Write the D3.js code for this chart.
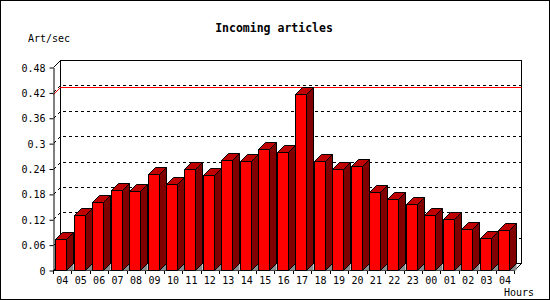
<!DOCTYPE html>
<html>
<head>
<meta charset="utf-8">
<script src="https://cdn.jsdelivr.net/npm/d3@7/dist/d3.min.js"></script>
<style>
html,body{margin:0;padding:0;background:#fff;}
svg{display:block;}
text{font-family:"DejaVu Sans Mono",monospace;fill:#000;}
</style>
</head>
<body>
<script>
const hours = ["04","05","06","07","08","09","10","11","12","13","14","15","16","17","18","19","20","21","22","23","00","01","02","03","04"];
const values = [0.073,0.130,0.160,0.188,0.186,0.226,0.203,0.240,0.224,0.259,0.257,0.285,0.279,0.415,0.257,0.240,0.245,0.184,0.169,0.155,0.129,0.120,0.096,0.075,0.094];
const yTicks = [0,0.06,0.12,0.18,0.24,0.3,0.36,0.42,0.48];
const yTickLabels = ["0","0.06","0.12","0.18","0.24","0.3","0.36","0.42","0.48"];
const title = "Incoming articles";
const yLabel = "Art/sec";
const xLabel = "Hours";

const W = 550, H = 300, D = 7;
const svg = d3.select("body").append("svg").attr("width", W).attr("height", H);
svg.append("rect").attr("x",0).attr("y",0).attr("width",W).attr("height",H).attr("fill","#fff");
svg.append("rect").attr("x",0.5).attr("y",0.5).attr("width",W-1).attr("height",H-1)
  .attr("fill","none").attr("stroke","#000");

const x = d3.scaleBand().domain(d3.range(hours.length)).range([53, 53 + 18.45*hours.length]).padding(0);
const y = d3.scaleLinear().domain([0, 0.48]).range([270, 67]);
const x0 = 53, x1 = Math.round(x.range()[1]);
const yTop = y(0.48), yBot = y(0);

// back wall
svg.append("rect").attr("x", x0 + D + 0.5).attr("y", yTop - D + 0.5)
  .attr("width", (x1 + D) - (x0 + D)).attr("height", yBot - yTop)
  .attr("fill","#fff").attr("stroke","#000");

// gridlines (dotted)
const grid = svg.append("g");
yTicks.filter(t => t > 0 && t < 0.48).forEach(t => {
  const yy = Math.round(y(t)) + 0.5;
  grid.append("path")
    .attr("d", `M${x0+0.5},${yy}L${x0+D+0.5},${yy-D}L${x1+D+0.5},${yy-D}`)
    .attr("fill","none").attr("stroke","#000").attr("stroke-dasharray","3,3")
    .attr("shape-rendering","crispEdges");
});

// max line (red)
const ym = Math.round(y(d3.max(values))) + 0.5;
svg.append("path")
  .attr("d", `M${x0+0.5},${ym}L${x0+D+0.5},${ym-D}L${x1+D+0.5},${ym-D}`)
  .attr("fill","none").attr("stroke","#ff0000");

// left wall edges & floor
svg.append("path")
  .attr("d", `M${x0+0.5},${yTop+0.5}L${x0+D+0.5},${yTop-D+0.5}` +
             `M${x0+0.5},${yBot+0.5}L${x0+D+0.5},${yBot-D+0.5}` +
             `M${x0+0.5},${yBot+0.5}L${x1+0.5},${yBot+0.5}L${x1+D+0.5},${yBot-D+0.5}`)
  .attr("fill","none").attr("stroke","#000");

// y axis
const yAxis = d3.axisLeft(y).tickValues(yTicks).tickSize(4).tickSizeOuter(0).tickPadding(4)
  .tickFormat((d,i) => yTickLabels[i]);
const ga = svg.append("g").attr("transform", `translate(${x0+0.5},0.5)`).call(yAxis);
ga.selectAll("text").style("font-size","10px").attr("dy","0.35em");
ga.selectAll("path,line").attr("stroke","#000");

// x axis labels
const xAxis = d3.axisBottom(x).tickSize(0).tickFormat(i => hours[i]);
const gx = svg.append("g").attr("transform", `translate(0,${yBot})`).call(xAxis);
gx.select(".domain").remove();
gx.selectAll("text").style("font-size","10px").attr("y", 14).attr("dy", "0");
// boundary ticks
svg.append("g").selectAll("line").data(d3.range(hours.length + 1)).join("line")
  .attr("x1", i => Math.round(x0 + i*x.step()) + 0.5)
  .attr("x2", i => Math.round(x0 + i*x.step()) + 0.5)
  .attr("y1", yBot + 0.5).attr("y2", yBot + 4)
  .attr("stroke","#000");

// bars
const bars = svg.append("g");
values.forEach((v, i) => {
  const fx1 = Math.round(x(i) + 2.3) + 0.5;
  const fx2 = fx1 + 11;
  const yt = Math.round(y(v)) + 0.5;
  const yb = yBot + 0.5;
  const g = bars.append("g");
  g.append("path").attr("d", `M${fx2},${yb}L${fx2+D},${yb-D}L${fx2+D},${yb}Z`)
    .attr("fill","#8c8c8c").attr("stroke","none");
  g.append("rect").attr("x", fx1).attr("y", yt).attr("width", fx2 - fx1).attr("height", yb - yt)
    .attr("fill","#ff0000").attr("stroke","#000");
  g.append("path").attr("d", `M${fx2},${yb}L${fx2+D},${yb-D}L${fx2+D},${yt-D}L${fx2},${yt}Z`)
    .attr("fill","#800000").attr("stroke","#000").attr("stroke-linejoin","miter");
  g.append("path").attr("d", `M${fx1},${yt}L${fx1+D},${yt-D}L${fx2+D},${yt-D}L${fx2},${yt}Z`)
    .attr("fill","#c00000").attr("stroke","#000");
});

// texts
svg.append("text").attr("x", 274).attr("y", 32).attr("text-anchor","middle")
  .style("font-size","11.5px").style("font-weight","bold").text(title);
svg.append("text").attr("x", 28).attr("y", 42).style("font-size","10px").text(yLabel);
svg.append("text").attr("x", 534).attr("y", 296).attr("text-anchor","end")
  .style("font-size","10px").text(xLabel);
</script>
</body>
</html>
